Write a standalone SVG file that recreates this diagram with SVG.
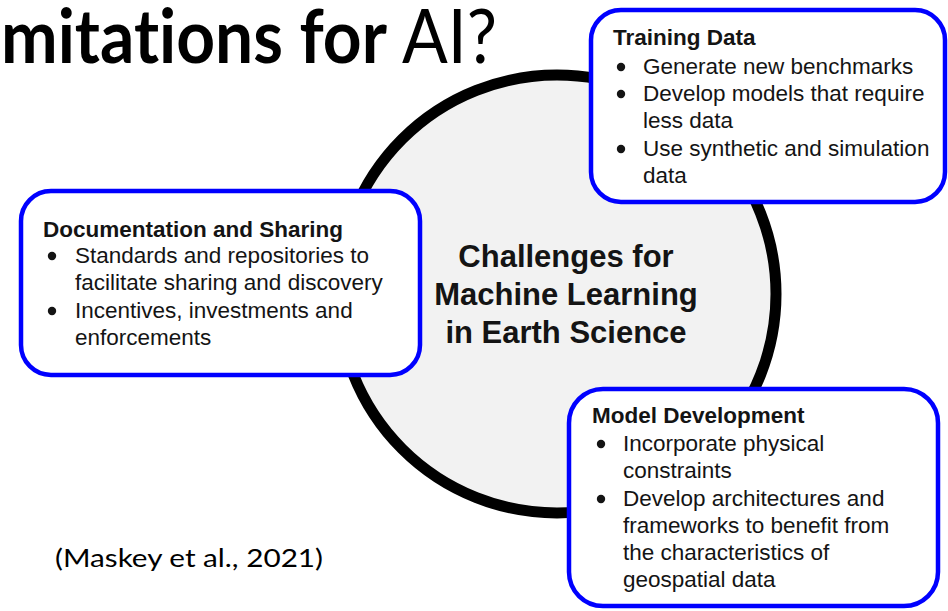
<svg xmlns="http://www.w3.org/2000/svg" width="948" height="611" viewBox="0 0 948 611">
<style>
.title{font-family:Lato,"Open Sans",sans-serif;font-size:75px;fill:#000;font-variant-ligatures:none}
.cite{font-family:Lato,"Open Sans",sans-serif;font-size:25px;fill:#000}
.box{fill:#fff;stroke:#0000ff;stroke-width:4.5}
.hd{font-family:"Liberation Sans",Arial,sans-serif;font-size:22.5px;font-weight:bold;fill:#141414}
.it{font-family:"Liberation Sans",Arial,sans-serif;font-size:22.5px;fill:#141414}
.ctr{font-family:"Liberation Sans",Arial,sans-serif;font-size:31px;font-weight:bold;fill:#141414;text-anchor:middle}
.bul{fill:#141414}
</style>
<rect width="948" height="611" fill="#fff"/>
<text class="title" x="1" y="63" textLength="496" lengthAdjust="spacingAndGlyphs"><tspan font-weight="bold">mitations for</tspan> AI?</text>
<text class="cite" x="55" y="567" textLength="268" lengthAdjust="spacingAndGlyphs">(Maskey et al., 2021)</text>
<g id="center">
<circle cx="557" cy="294" r="219" fill="#f2f2f2" stroke="#000" stroke-width="11"/>
<text class="ctr" x="566" y="267">Challenges for</text>
<text class="ctr" x="566" y="305">Machine Learning</text>
<text class="ctr" x="566" y="343">in Earth Science</text>
</g>
<g id="connectors"></g>
<g id="training">
<rect class="box" x="591" y="10" width="354" height="192" rx="30"/>
<text class="hd" x="613" y="45">Training Data</text>
<circle class="bul" cx="621" cy="67" r="4.2"/>
<circle class="bul" cx="621" cy="94" r="4.2"/>
<circle class="bul" cx="621" cy="149" r="4.2"/>
<text class="it" x="643" y="74">Generate new benchmarks</text>
<text class="it" x="643" y="101">Develop models that require</text>
<text class="it" x="643" y="128">less data</text>
<text class="it" x="643" y="156">Use synthetic and simulation</text>
<text class="it" x="643" y="183">data</text>
</g>
<g id="documentation">
<rect class="box" x="21" y="191" width="399" height="184" rx="30"/>
<text class="hd" x="43" y="237">Documentation and Sharing</text>
<circle class="bul" cx="52" cy="256" r="4.2"/>
<circle class="bul" cx="52" cy="311" r="4.2"/>
<text class="it" x="75" y="263">Standards and repositories to</text>
<text class="it" x="75" y="290">facilitate sharing and discovery</text>
<text class="it" x="75" y="318">Incentives, investments and</text>
<text class="it" x="75" y="345">enforcements</text>
</g>
<g id="model">
<rect class="box" x="569" y="389" width="369" height="217" rx="34"/>
<text class="hd" x="592" y="423">Model Development</text>
<circle class="bul" cx="601" cy="444" r="4.2"/>
<circle class="bul" cx="601" cy="499" r="4.2"/>
<text class="it" x="623" y="451">Incorporate physical</text>
<text class="it" x="623" y="478">constraints</text>
<text class="it" x="623" y="506">Develop architectures and</text>
<text class="it" x="623" y="533">frameworks to benefit from</text>
<text class="it" x="623" y="560">the characteristics of</text>
<text class="it" x="623" y="587">geospatial data</text>
</g>
</svg>
